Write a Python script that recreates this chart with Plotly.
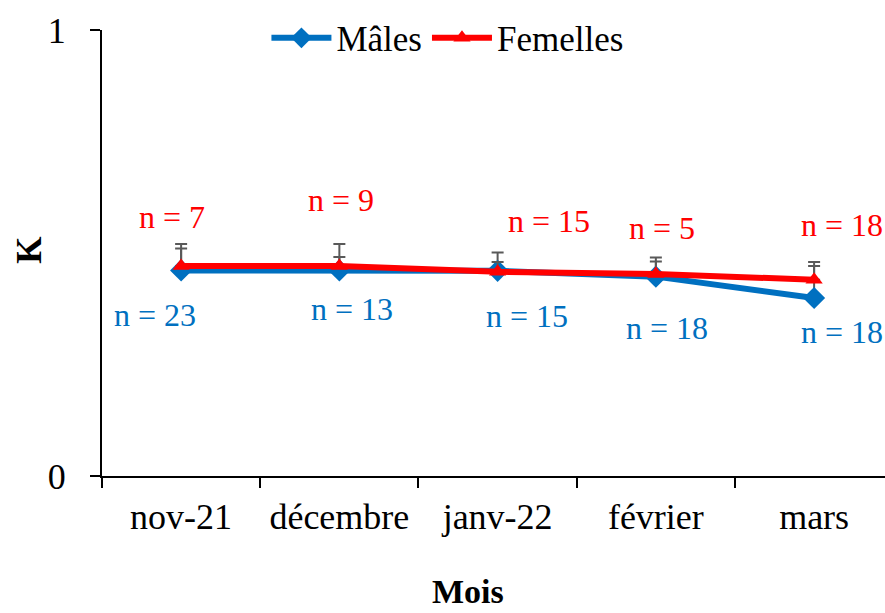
import plotly.graph_objects as go

months = ["nov-21", "décembre", "janv-22", "février", "mars"]
males = [0.461, 0.461, 0.460, 0.447, 0.399]
females = [0.471, 0.471, 0.458, 0.453, 0.440]
males_err = [0.049, 0.059, 0.041, 0.043, 0.081]
females_err = [0.049, 0.020, 0.022, 0.028, 0.031]
males_n = [23, 13, 15, 18, 18]
females_n = [7, 9, 15, 5, 18]

# label offsets in px (style, not data)
males_off = [(-26, -45), (13, -39), (29, -45), (11, -51), (28, -34)]
females_off = [(-9, 49), (2, 66), (51, 51), (6, 46), (28, 55)]

FONT = "Liberation Serif"
BLUE = "#0070C0"
RED = "#FF0000"
GREY = "#595959"

fig = go.Figure()
fig.add_trace(go.Scatter(
    x=months, y=males, name="Mâles", mode="lines+markers",
    line=dict(color=BLUE, width=6),
    marker=dict(symbol="diamond", size=17, color=BLUE),
    error_y=dict(type="data", array=males_err, symmetric=False,
                 arrayminus=[0] * len(males), color=GREY, thickness=2, width=6),
))
fig.add_trace(go.Scatter(
    x=months, y=females, name="Femelles", mode="lines+markers",
    line=dict(color=RED, width=6),
    marker=dict(symbol="triangle-up", size=15, color=RED),
    error_y=dict(type="data", array=females_err, symmetric=False,
                 arrayminus=[0] * len(females), color=GREY, thickness=2, width=6),
))

for m, v, n, (dx, dy) in zip(months, males, males_n, males_off):
    fig.add_annotation(x=m, y=v, text=f"n = {n}", showarrow=False,
                       xshift=dx, yshift=dy, font=dict(family=FONT, size=32, color=BLUE))
for m, v, n, (dx, dy) in zip(months, females, females_n, females_off):
    fig.add_annotation(x=m, y=v, text=f"n = {n}", showarrow=False,
                       xshift=dx, yshift=dy, font=dict(family=FONT, size=32, color=RED))

fig.add_annotation(xref="paper", yref="paper", x=0.467, y=0, yshift=-115,
                   text="<b>Mois</b>", showarrow=False, xanchor="center", yanchor="middle",
                   font=dict(family=FONT, size=34, color="black"))
fig.add_annotation(xref="paper", yref="paper", x=-0.092, y=0.507,
                   text="<b>K</b>", showarrow=False, textangle=-90,
                   xanchor="center", yanchor="middle",
                   font=dict(family=FONT, size=35, color="black"))

fig.update_layout(
    width=885, height=613,
    margin=dict(l=102, r=0, t=30, b=137, autoexpand=False),
    paper_bgcolor="white", plot_bgcolor="white",
    font=dict(family=FONT, size=36, color="black"),
    showlegend=True,
    legend=dict(orientation="h", x=0.21, xanchor="left", y=0.982, yanchor="middle",
                font=dict(family=FONT, size=35, color="black"),
                bgcolor="rgba(0,0,0,0)", itemwidth=60, tracegroupgap=0),
)
fig.update_xaxes(
    range=[-0.5, 4.448], showgrid=False, zeroline=False,
    showline=True, linecolor="black", linewidth=2,
    ticks="outside", ticklen=10, tickwidth=2, tickcolor="black",
    tickson="boundaries", ticklabelstandoff=8,
    tickfont=dict(family=FONT, size=36, color="black"),
)
fig.update_yaxes(
    range=[0, 1], tickvals=[0, 1], ticktext=["0", "1"], showgrid=False, zeroline=False,
    showline=True, linecolor="black", linewidth=2,
    ticks="outside", ticklen=10, tickwidth=2, tickcolor="black",
    ticklabelstandoff=17, tickfont=dict(family=FONT, size=36, color="black"),
)

fig.write_html("out.html", config={"displayModeBar": False},
               post_script="document.body.style.margin='0';document.documentElement.style.overflow='hidden';")
